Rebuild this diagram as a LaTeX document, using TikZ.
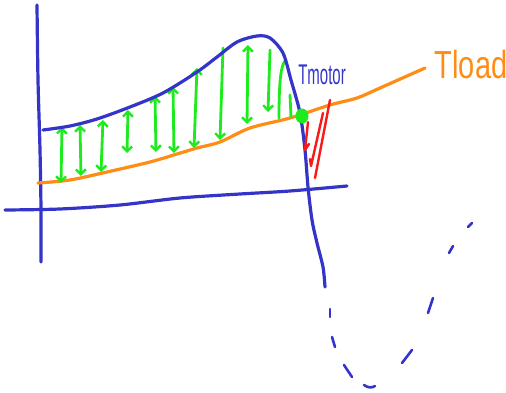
\documentclass[tikz,border=0pt]{standalone}
\usepackage{fontspec}
\setmainfont{Liberation Sans}
\usepackage{graphicx}
\usetikzlibrary{arrows.meta}
\definecolor{penblue}{RGB}{52,52,200}
\definecolor{penorange}{RGB}{255,140,20}
\definecolor{pengreen}{RGB}{30,235,30}
\definecolor{penred}{RGB}{250,25,25}
\tikzset{
  bluepen/.style={draw=penblue, line width=3.2pt, line cap=round, line join=round},
  dashpen/.style={draw=penblue, line width=2.6pt, line cap=round},
  orangepen/.style={draw=penorange, line width=3.2pt, line cap=round, line join=round},
  greenpen/.style={draw=pengreen, line width=2.8pt, line cap=round, line join=round},
  redpen/.style={draw=penred, line width=2.4pt, line cap=round, line join=round},
  gtip/.tip={Straight Barb[length=5pt,width=10pt,line width=2.4pt]},
}
\begin{document}
\begin{tikzpicture}[x=1pt,y=-1pt]
\useasboundingbox (0,0) rectangle (506,393);
% axes
\draw[bluepen] plot[smooth] coordinates {(37,5) (38,80) (40,150) (41,210) (41,262)};
\draw[bluepen] plot[smooth] coordinates {(5,210) (60,209) (120,205) (180,198) (240,194) (290,191) (347,186)};
% load curve
\draw[orangepen] plot[smooth] coordinates {(38,183) (70,180) (107,172) (150,162) (177,154) (197,148) (220,142) (250,128) (290,118) (330,105) (357,98) (380,88) (425,68)};
% green arrows
\draw[greenpen,gtip-gtip] (62,127) -- (61,183);
\draw[greenpen,gtip-gtip] (80,125) -- (81,176);
\draw[greenpen,gtip-gtip] (103,120) -- (101,172);
\draw[greenpen,gtip-gtip] (128,110) -- (127,153);
\draw[greenpen,gtip-gtip] (155,96) -- (156,152);
\draw[greenpen,gtip-gtip] (173,87) -- (174,153);
\draw[greenpen,gtip-gtip] (197,68) -- (194,148);
\draw[greenpen,-gtip] (223,48) -- (220,140);
\draw[greenpen,gtip-gtip] (248,45) -- (247,124);
\draw[greenpen,-gtip] (270,50) -- (268,112);
\draw[greenpen] (279,118) .. controls (279,80) and (281,66) .. (285,61);
\draw[greenpen] (290,95) -- (291,117);
% motor curve
\draw[bluepen] plot[smooth] coordinates {(43,130) (70,126) (97,119) (130,107) (163,93) (197,72) (217,57) (237,42) (257,36) (270,38) (283,53) (291,80) (300,113) (305,150) (308,187) (312,220) (317,243) (323,267) (325,287)};
\draw[dashpen] (330,309) -- (330,317);
\draw[dashpen] (332,337) -- (335,347);
\draw[dashpen] (344,365) -- (352,377);
\draw[dashpen] (364,385) .. controls (368,388) and (372,388) .. (375,386);
\draw[dashpen] (402,363) -- (412,350);
\draw[dashpen] (428,313) -- (433,298);
\draw[dashpen] (449,253) -- (453,246);
\draw[dashpen] (468,227) -- (472,223);
% red marks
\draw[redpen] (308,122) -- (305,150) -- (309,144);
\draw[redpen] (323,113) -- (311,166) -- (310,159);
\draw[redpen] (330,100) -- (315,178);
% operating point
\fill[pengreen] (302,116) ellipse (6.5 and 7.5);
% labels
\node[text=penblue, font=\fontsize{15}{15}\selectfont] (tmotor) at (322,75) {\scalebox{1}[1.9]{Tmotor}};
\node[text=penorange, font=\fontsize{29}{29}\selectfont] (tload) at (471,65) {\scalebox{1}[1.35]{Tload}};
\end{tikzpicture}
\end{document}
